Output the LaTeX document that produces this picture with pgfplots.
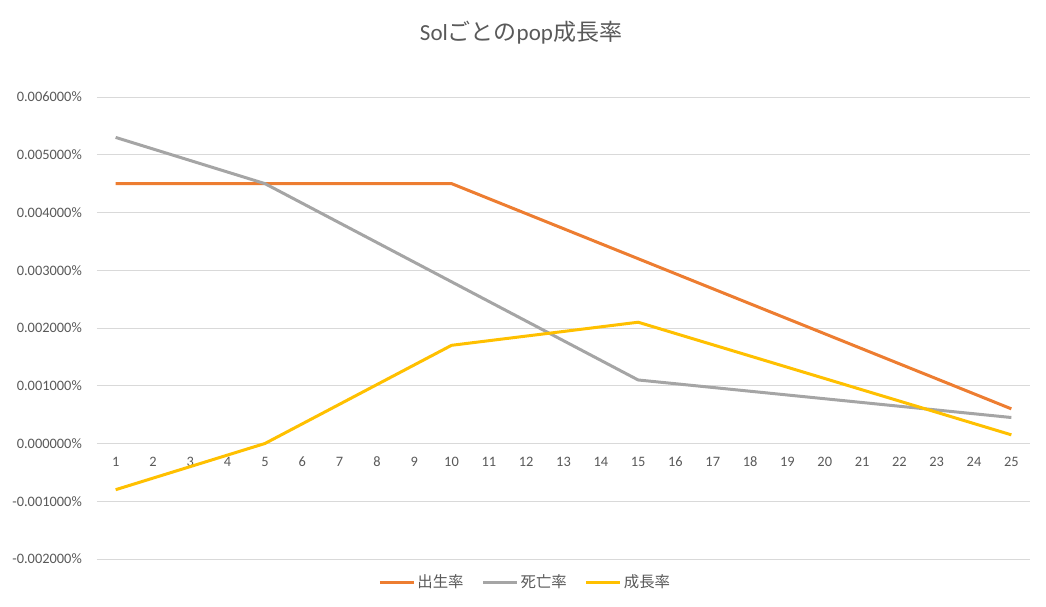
\documentclass[border=0pt]{standalone}
\usepackage{pgfplots}
\pgfplotsset{compat=1.18}
\usepackage{fontspec}
\setmainfont{Carlito}
\newfontfamily\cjk{Noto Sans CJK JP}
\definecolor{cOrange}{HTML}{ED7D31}
\definecolor{cGray}{HTML}{A5A5A5}
\definecolor{cYellow}{HTML}{FFC000}
\definecolor{cGrid}{HTML}{D9D9D9}
\definecolor{cText}{HTML}{595959}
\begin{document}
\begin{tikzpicture}
\path[use as bounding box] (0,0) rectangle (1046pt,607pt);
\node[text=cText, font=\fontsize{23}{26}\selectfont] at (521pt,574pt) {Sol{\cjk ごとの}pop{\cjk 成長率}};
\begin{axis}[
  at={(97pt,48pt)}, anchor=south west,
  width=933pt, height=462pt, scale only axis,
  xmin=0.5, xmax=25.5, ymin=-2, ymax=6,
  axis x line*=middle, axis y line*=left,
  x axis line style={draw=cGrid, line width=0.75pt, -},
  y axis line style={draw=none},
  xtick={1,...,25}, ytick={-2,-1,0,1,2,3,4,5,6},
  yticklabels={-0.002000\%,-0.001000\%,0.000000\%,0.001000\%,0.002000\%,0.003000\%,0.004000\%,0.005000\%,0.006000\%},
  major tick length=0pt,
  ymajorgrids, grid style={draw=cGrid, line width=0.75pt},
  tick label style={text=cText, font=\fontsize{14.4}{16}\selectfont},
  xticklabel style={anchor=north, yshift=-10pt},
  yticklabel style={anchor=east, inner sep=0pt, xshift=-15pt},
  /pgf/number format/assume math mode=true,
  legend style={at={(0.459,-0.0498)}, anchor=center, draw=none, fill=none, legend columns=3,
    font=\cjk\fontsize{15.4}{17}\selectfont, text=cText,
    /tikz/every even column/.append style={column sep=16pt}},
  legend image code/.code={\draw[#1, line width=3pt] (0pt,0pt) -- (34pt,0pt);},
  every axis plot/.append style={line width=3pt, no markers},
]
\addplot[cOrange] coordinates {(1,4.5)(2,4.5)(3,4.5)(4,4.5)(5,4.5)(6,4.5)(7,4.5)(8,4.5)(9,4.5)(10,4.5)(11,4.24)(12,3.98)(13,3.72)(14,3.46)(15,3.2)(16,2.94)(17,2.68)(18,2.42)(19,2.16)(20,1.9)(21,1.64)(22,1.38)(23,1.12)(24,0.86)(25,0.6)};
\addlegendentry{出生率}
\addplot[cGray] coordinates {(1,5.3)(2,5.1)(3,4.9)(4,4.7)(5,4.5)(6,4.16)(7,3.82)(8,3.48)(9,3.14)(10,2.8)(11,2.46)(12,2.12)(13,1.78)(14,1.44)(15,1.1)(16,1.035)(17,0.97)(18,0.905)(19,0.84)(20,0.775)(21,0.71)(22,0.645)(23,0.58)(24,0.515)(25,0.45)};
\addlegendentry{死亡率}
\addplot[cYellow] coordinates {(1,-0.8)(2,-0.6)(3,-0.4)(4,-0.2)(5,0)(6,0.34)(7,0.68)(8,1.02)(9,1.36)(10,1.7)(11,1.78)(12,1.86)(13,1.94)(14,2.02)(15,2.1)(16,1.905)(17,1.71)(18,1.515)(19,1.32)(20,1.125)(21,0.93)(22,0.735)(23,0.54)(24,0.345)(25,0.15)};
\addlegendentry{成長率}
\end{axis}
\end{tikzpicture}
\end{document}
